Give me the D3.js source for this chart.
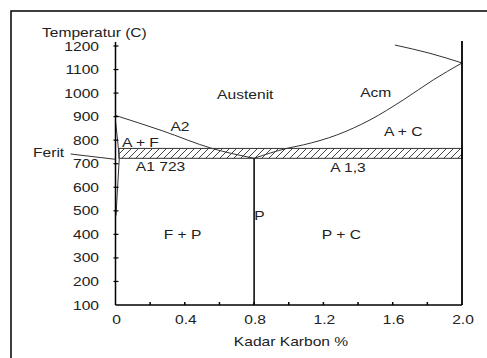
<!DOCTYPE html>
<html>
<head>
<meta charset="utf-8">
<script src="https://cdn.jsdelivr.net/npm/d3@7"></script>
<style>
  body { margin: 0; background: #fff; }
  text { font-family: "Liberation Sans", Arial, sans-serif; font-size: 13px; fill: #222; }
</style>
</head>
<body>
<svg class="chart" width="487" height="358"></svg>
<script>
// axis ticks
var xTicks = [0, 0.4, 0.8, 1.2, 1.6, 2.0];
var xMinor = [0.2, 0.6, 1.0, 1.4, 1.8];
var yTicks = [100, 200, 300, 400, 500, 600, 700, 800, 900, 1000, 1100, 1200];

// phase lines [carbon %, temperature C]
var a2Line = [[0, 905], [0.27, 840], [0.557, 765], [0.8, 723]];
var acmLine = [[0.8, 723], [0.988, 765], [1.084, 780], [1.277, 822], [1.469, 886], [1.661, 971], [1.834, 1056], [2.0, 1128]];
var upperLine = [[1.613, 1204], [1.815, 1169], [2.0, 1128]];
var gpLine = [[0, 880], [0.012, 800], [0.022, 723]];
var solvusLine = [[0.022, 723], [0.012, 600], [0.003, 480]];
var band = [723, 765];          // hatched transformation band
var bandStart = 0.02;
var eutectoid = 0.8;
var maxCarbon = 2.0;

// region names [text, carbon %, temperature]
var labels = [
  ["Austenit", 0.749, 995],
  ["Acm", 1.502, 1003],
  ["A2", 0.372, 860],
  ["A + F", 0.144, 792],
  ["A1 723", 0.26, 687],
  ["A + C", 1.661, 836],
  ["A 1,3", 1.342, 686],
  ["P", 0.831, 482],
  ["F + P", 0.387, 399],
  ["P + C", 1.304, 399]
];

var svg = d3.select(".chart");

var x = d3.scaleLinear().domain([0, 2]).range([115.5, 462]);
var y = d3.scaleLinear().domain([100, 1200]).range([305, 46]);

// text is drawn a bit wide in the original
function label(g, str, px, py, anchor) {
  g.append("text")
    .attr("transform", "translate(" + px + "," + py + ") scale(1.2,1)")
    .attr("text-anchor", anchor || "middle")
    .attr("dy", "0.35em")
    .text(str);
}

// outer frame (runs off the right and bottom edge)
svg.append("path")
  .attr("d", "M11,400 L11,11 L500,11")
  .attr("fill", "none").attr("stroke", "#000").attr("stroke-width", 1.5);

// hatch pattern
var pat = svg.append("defs").append("pattern")
  .attr("id", "hatch")
  .attr("patternUnits", "userSpaceOnUse")
  .attr("width", 7).attr("height", 7);
pat.append("path")
  .attr("d", "M-1,8 L8,-1 M-3,3 L3,-3 M4,10 L10,4")
  .attr("stroke", "#444").attr("stroke-width", 1);

svg.append("rect")
  .attr("x", x(bandStart))
  .attr("y", y(band[1]))
  .attr("width", x(maxCarbon) - x(bandStart))
  .attr("height", y(band[0]) - y(band[1]))
  .attr("fill", "url(#hatch)")
  .attr("stroke", "#333").attr("stroke-width", 1);

var line = d3.line()
  .x(function(d) { return x(d[0]); })
  .y(function(d) { return y(d[1]); })
  .curve(d3.curveMonotoneX);
var lineY = d3.line()
  .x(function(d) { return x(d[0]); })
  .y(function(d) { return y(d[1]); })
  .curve(d3.curveMonotoneY);

[a2Line, acmLine, upperLine].forEach(function(pts) {
  svg.append("path").datum(pts).attr("d", line)
    .attr("fill", "none").attr("stroke", "#333").attr("stroke-width", 1);
});
[gpLine, solvusLine].forEach(function(pts) {
  svg.append("path").datum(pts).attr("d", lineY)
    .attr("fill", "none").attr("stroke", "#333").attr("stroke-width", 1);
});

// eutectoid vertical and 2.0 % boundary
svg.append("line")
  .attr("x1", x(eutectoid)).attr("x2", x(eutectoid))
  .attr("y1", y(band[0])).attr("y2", y(100))
  .attr("stroke", "#000").attr("stroke-width", 1.5);
svg.append("line")
  .attr("x1", x(maxCarbon)).attr("x2", x(maxCarbon))
  .attr("y1", 41).attr("y2", y(100))
  .attr("stroke", "#000").attr("stroke-width", 1.8);

// y axis
svg.append("line")
  .attr("x1", x(0)).attr("x2", x(0))
  .attr("y1", 42).attr("y2", y(100))
  .attr("stroke", "#000").attr("stroke-width", 1.5);
svg.selectAll(".ytick").data(yTicks.slice(1)).enter().append("line")
  .attr("x1", x(0) - 2).attr("x2", x(0) + 3)
  .attr("y1", function(d) { return y(d); })
  .attr("y2", function(d) { return y(d); })
  .attr("stroke", "#000").attr("stroke-width", 1.2);
yTicks.forEach(function(d) { label(svg, d, 99, y(d), "end"); });

// x axis
svg.append("line")
  .attr("x1", x(0)).attr("x2", x(2))
  .attr("y1", y(100)).attr("y2", y(100))
  .attr("stroke", "#000").attr("stroke-width", 1.5);
svg.selectAll(".xtick").data(xTicks.slice(1, -1).concat(xMinor)).enter().append("line")
  .attr("x1", function(d) { return x(d); })
  .attr("x2", function(d) { return x(d); })
  .attr("y1", y(100) - 3).attr("y2", y(100))
  .attr("stroke", "#000").attr("stroke-width", 1.5);
xTicks.forEach(function(d) { label(svg, d === 0 ? "0" : d.toFixed(1), x(d) + 1, 319); });

// titles
label(svg, "Temperatur (C)", 42, 32, "start");
label(svg, "Kadar Karbon %", 291, 341.5);

// region labels
labels.forEach(function(d) { label(svg, d[0], x(d[1]), y(d[2])); });

// ferrite pointer
label(svg, "Ferit", 33, 152.7, "start");
svg.append("line")
  .attr("x1", 70.7).attr("y1", 154)
  .attr("x2", x(0)).attr("y2", 159.3)
  .attr("stroke", "#333").attr("stroke-width", 1);
</script>
</body>
</html>
